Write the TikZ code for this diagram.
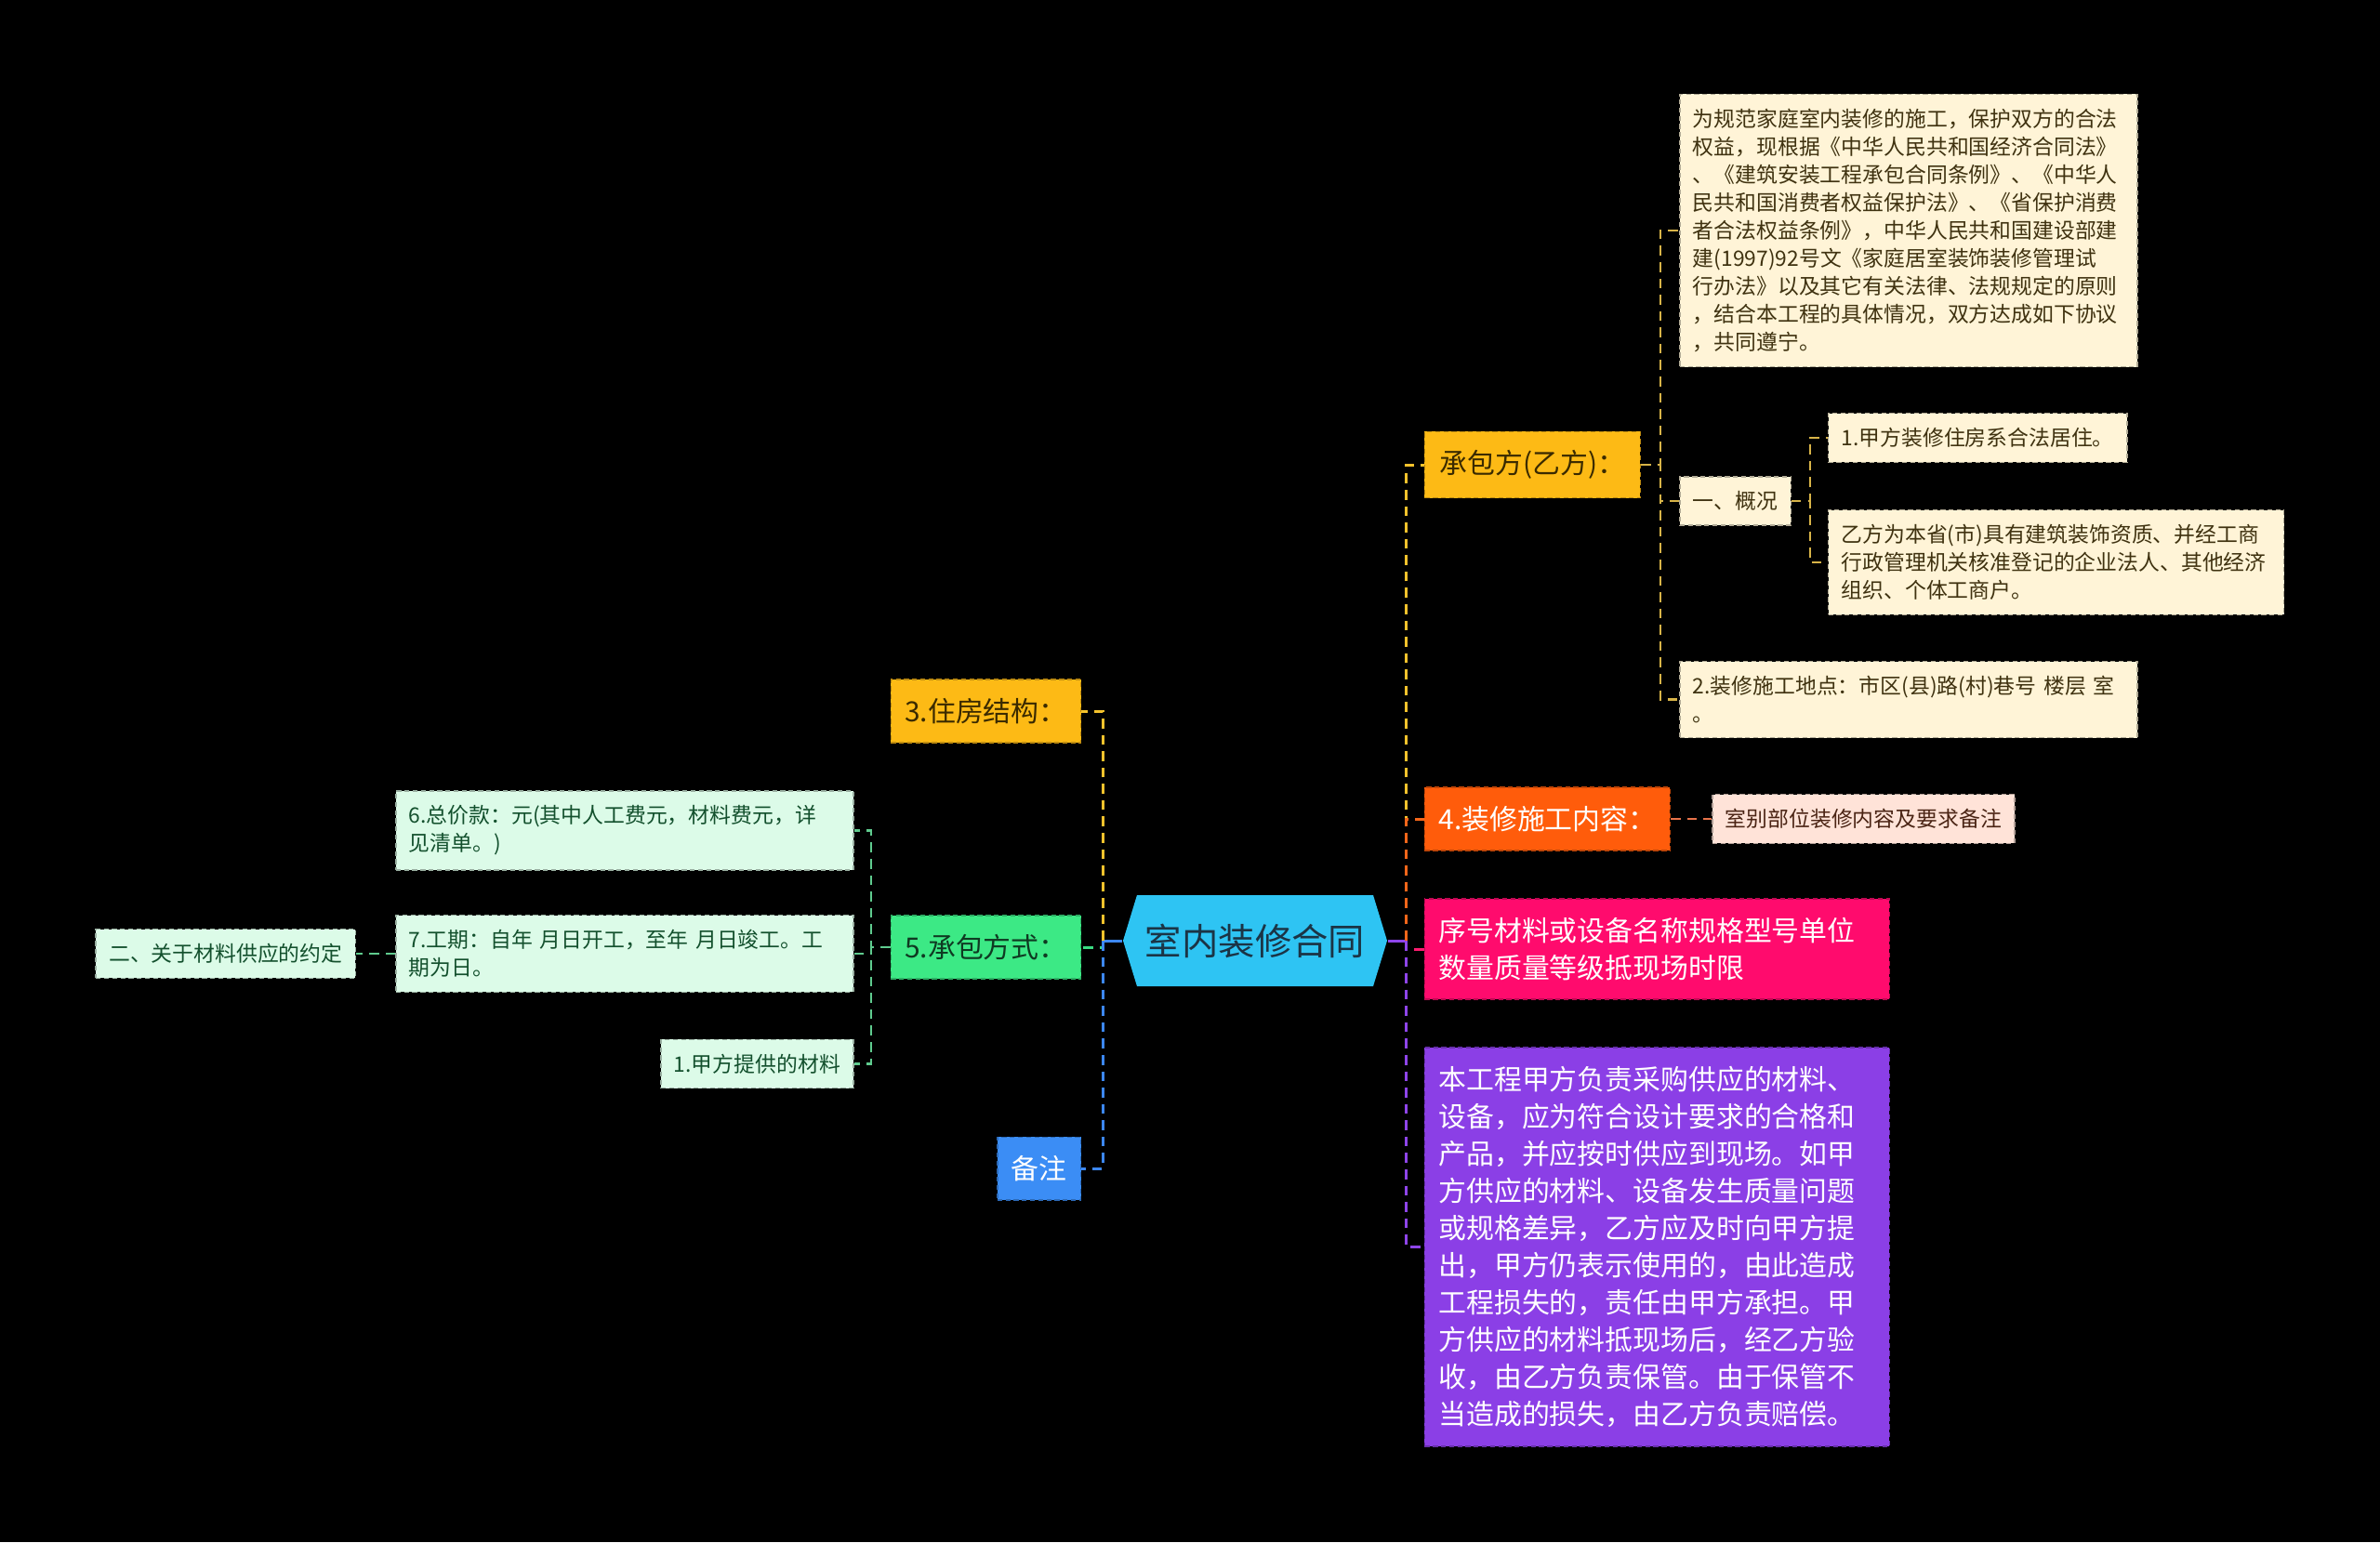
\documentclass[tikz,border=0pt]{standalone}
\usepackage{fontspec}
\usepackage{xcolor}
\usepackage{tikz}
\usetikzlibrary{positioning,shapes.symbols}
\newfontfamily\cjk{Noto Sans CJK SC}
\definecolor{RootBlue}{HTML}{2EC4F3}
\definecolor{RootInk}{HTML}{1B3445}
\definecolor{GoldFill}{HTML}{FDBA15}
\definecolor{GoldInk}{HTML}{3A2A00}
\definecolor{OrangeFill}{HTML}{FF5C0B}
\definecolor{PinkFill}{HTML}{FF0B6D}
\definecolor{PurpleFill}{HTML}{8B3FE6}
\definecolor{GreenFill}{HTML}{3CE985}
\definecolor{GreenInk}{HTML}{0F3A22}
\definecolor{BlueFill}{HTML}{3B8DF5}
\definecolor{CreamFill}{HTML}{FFF4D7}
\definecolor{CreamInk}{HTML}{3F3210}
\definecolor{BlushFill}{HTML}{FFE3D8}
\definecolor{BlushInk}{HTML}{4A2414}
\definecolor{MintFill}{HTML}{DCFBE8}
\definecolor{MintInk}{HTML}{13502D}
\definecolor{GoldLine}{HTML}{F4C22C}
\definecolor{CreamLine}{HTML}{D8B448}
\definecolor{OrangeLine}{HTML}{F5661A}
\definecolor{BlushLine}{HTML}{E8734A}
\definecolor{PinkLine}{HTML}{FF1C70}
\definecolor{PurpleLine}{HTML}{8E45EA}
\definecolor{GreenLine}{HTML}{3ADB82}
\definecolor{MintLine}{HTML}{5FCB8E}
\definecolor{BlueLine}{HTML}{3C87F0}

\begin{document}
\begin{tikzpicture}[
  topic/.style={signal,signal to=west and east,signal pointer angle=146,fill=RootBlue,text=RootInk,
    minimum width=2.84cm,minimum height=0.98cm,inner sep=0pt,font=\cjk\fontsize{11.2}{13}\selectfont},
  branch/.style={draw=#1!75!black,dash pattern=on 1.5pt off 1pt,line width=0.4pt,fill=#1,
    inner xsep=1.5mm,inner ysep=2mm,align=left,font=\cjk\fontsize{8.5}{11.4}\selectfont},
  leaf/.style={draw=#1!70!black,dash pattern=on 1.5pt off 1pt,line width=0.4pt,fill=#1,
    inner xsep=1.4mm,inner ysep=1.56mm,align=left,font=\cjk\fontsize{6.5}{8.54}\selectfont},
  link/.style={line width=0.85pt,dash pattern=on 3pt off 2pt},
  sublink/.style={line width=0.6pt,dash pattern=on 3pt off 2pt}
]
  \fill[black] (0,0) rectangle (25.6,-16.59);
  \useasboundingbox (0,0) rectangle (25.6,-16.59);

  \node[topic] (root) at (13.5,-10.12) {室内装修合同};

  \node[branch=GoldFill, text=GoldInk, minimum width=2.32cm, right=3.9mm of root, yshift=5.12cm] (cbf) {承包方(乙方)：};
  \node[branch=OrangeFill, text=white, right=3.9mm of root, yshift=1.31cm] (zx) {4.装修施工内容：};
  \node[branch=PinkFill, text=white, text width=4.7cm, right=3.9mm of root, yshift=-0.09cm] (xh) {序号材料或设备名称规格型号单位\\
  数量质量等级抵现场时限};
  \node[branch=PurpleFill, text=white, text width=4.7cm, right=3.9mm of root, yshift=-3.295cm] (bgc) {本工程甲方负责采购供应的材料、\\
  设备，应为符合设计要求的合格和\\
  产品，并应按时供应到现场。如甲\\
  方供应的材料、设备发生质量问题\\
  或规格差异，乙方应及时向甲方提\\
  出，甲方仍表示使用的，由此造成\\
  工程损失的，责任由甲方承担。甲\\
  方供应的材料抵现场后，经乙方验\\
  收，由乙方负责保管。由于保管不\\
  当造成的损失，由乙方负责赔偿。};

  \node[branch=GoldFill, text=GoldInk, left=4.4mm of root, yshift=2.47cm] (zf) {3.住房结构：};
  \node[branch=GreenFill, text=GreenInk, left=4.4mm of root, yshift=-0.07cm] (cbfs) {5.承包方式：};
  \node[branch=BlueFill, text=white, left=4.4mm of root, yshift=-2.45cm] (bz) {备注};

  \node[leaf=CreamFill, text=CreamInk, text width=4.64cm, right=4.1mm of cbf, yshift=2.52cm] (gf) {为规范家庭室内装修的施工，保护双方的合法\\
  权益，现根据《中华人民共和国经济合同法》\\
  、《建筑安装工程承包合同条例》、《中华人\\
  民共和国消费者权益保护法》、《省保护消费\\
  者合法权益条例》，中华人民共和国建设部建\\
  建(1997)92号文《家庭居室装饰装修管理试\\
  行办法》以及其它有关法律、法规规定的原则\\
  ，结合本工程的具体情况，双方达成如下协议\\
  ，共同遵宁。};
  \node[leaf=CreamFill, text=CreamInk, right=4.1mm of cbf, yshift=-0.39cm] (gk) {一、概况};
  \node[leaf=CreamFill, text=CreamInk, text width=4.64cm, right=4.1mm of cbf, yshift=-2.525cm] (dd) {2.装修施工地点：市区(县)路(村)巷号~楼层~室\\
  。};
  \node[leaf=CreamFill, text=CreamInk, right=3.9mm of gk, yshift=0.68cm] (jz) {1.甲方装修住房系合法居住。};
  \node[leaf=CreamFill, text=CreamInk, text width=4.62cm, right=3.9mm of gk, yshift=-0.66cm] (yf) {乙方为本省(市)具有建筑装饰资质、并经工商\\
  行政管理机关核准登记的企业法人、其他经济\\
  组织、个体工商户。};
  \node[leaf=BlushFill, text=BlushInk, right=4.4mm of zx] (sb) {室别部位装修内容及要求备注};

  \node[leaf=MintFill, text=MintInk, text width=4.64cm, left=3.9mm of cbfs, yshift=1.255cm] (zjk) {6.总价款：元(其中人工费元，材料费元，详\\
  见清单。)};
  \node[leaf=MintFill, text=MintInk, text width=4.64cm, left=3.9mm of cbfs, yshift=-0.07cm] (gq) {7.工期：自年~月日开工，至年~月日竣工。工\\
  期为日。};
  \node[leaf=MintFill, text=MintInk, left=3.9mm of cbfs, yshift=-1.255cm] (jf) {1.甲方提供的材料};
  \node[leaf=MintFill, text=MintInk, left=4.2mm of gq] (gy) {二、关于材料供应的约定};

  \coordinate[right=2mm of root] (rj);
  \coordinate[left=2.1mm of root] (lj);
  \coordinate[right=2.1mm of cbf] (cj);
  \coordinate[right=2mm of gk] (kj);
  \coordinate[left=2.1mm of cbfs] (sj);

  \draw[line width=0.85pt, PurpleLine] (root.east) -- (rj);
  \draw[line width=0.85pt, BlueLine] (root.west) -- (lj);
  \draw[link, GoldLine] (rj) |- (cbf.west);
  \draw[link, OrangeLine] (rj) |- (zx.west);
  \draw[link, PinkLine] (rj) |- (xh.west);
  \draw[link, PurpleLine] (rj) |- (bgc.west);
  \draw[link, GoldLine] (lj) |- (zf.east);
  \draw[link, GreenLine] (lj) |- (cbfs.east);
  \draw[link, BlueLine] (lj) |- (bz.east);

  \draw[sublink, CreamLine] (cbf.east) -- (cj) |- (gf.west);
  \draw[sublink, CreamLine] (cbf.east) -- (cj) |- (gk.west);
  \draw[sublink, CreamLine] (cbf.east) -- (cj) |- (dd.west);
  \draw[sublink, CreamLine] (gk.east) -- (kj) |- (jz.west);
  \draw[sublink, CreamLine] (gk.east) -- (kj) |- (yf.west);
  \draw[sublink, BlushLine] (zx.east) -- (sb.west);
  \draw[sublink, MintLine] (cbfs.west) -- (sj) |- (zjk.east);
  \draw[sublink, MintLine] (cbfs.west) -- (sj) |- (gq.east);
  \draw[sublink, MintLine] (cbfs.west) -- (sj) |- (jf.east);
  \draw[sublink, MintLine] (gq.west) -- (gy.east);
\end{tikzpicture}
\end{document}
